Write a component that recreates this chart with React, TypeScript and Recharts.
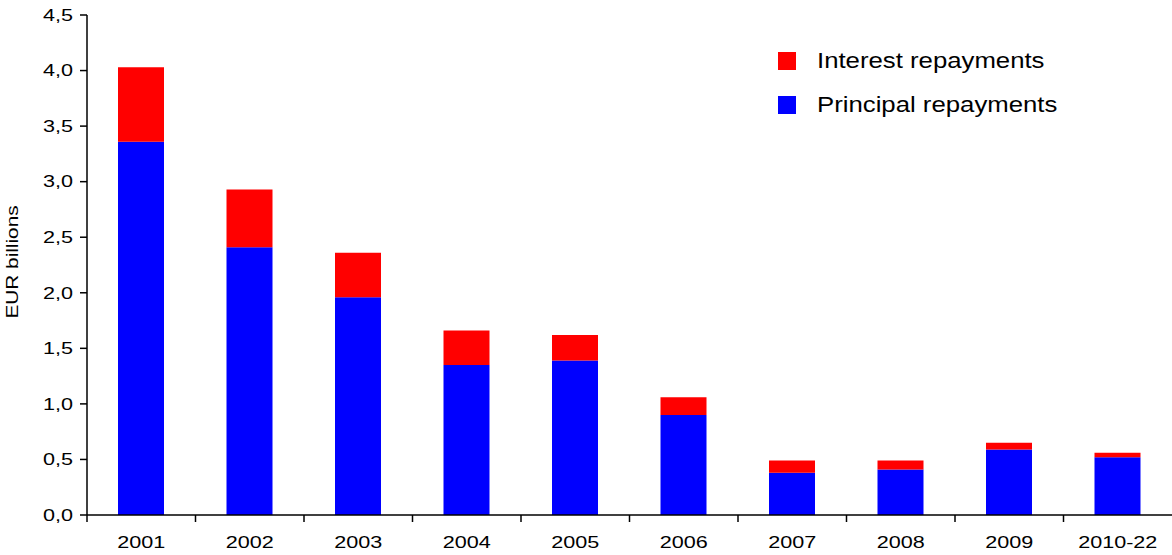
import { BarChart, Bar, XAxis, YAxis } from 'recharts';

const years = ['2001', '2002', '2003', '2004', '2005', '2006', '2007', '2008', '2009', '2010-22'];
const principal = [3.36, 2.41, 1.96, 1.35, 1.39, 0.9, 0.38, 0.41, 0.59, 0.52];
const interest = [0.67, 0.52, 0.4, 0.31, 0.23, 0.16, 0.11, 0.08, 0.06, 0.04];
const yTicks = [0, 0.5, 1, 1.5, 2, 2.5, 3, 3.5, 4, 4.5];

const legendItems = [
  { name: 'Interest repayments', color: '#ff0000' },
  { name: 'Principal repayments', color: '#0000ff' },
];

const W = 1172;
const H = 555;
const PLOT_LEFT = 87;
const HALF_BAND = (W - PLOT_LEFT) / years.length / 2;
const FONT = 'Liberation Sans, Arial, sans-serif';

const data = years.map((y, i) => ({ year: y, principal: principal[i], interest: interest[i] }));

const fmt = (v: number) => v.toFixed(1).replace('.', ',');

function XTick({ x, y, payload }: any) {
  const bx = x - HALF_BAND;
  return (
    <g>
      <line x1={bx} x2={bx} y1={y} y2={y + 7} stroke="#000" strokeWidth={1.5} />
      <text
        transform={`translate(${x},${y + 33}) scale(1.35,1)`}
        textAnchor="middle"
        fontSize={16}
        fontFamily={FONT}
        fill="#000"
      >
        {payload.value}
      </text>
    </g>
  );
}

function YTick({ x, y, payload }: any) {
  return (
    <text
      transform={`translate(${x},${y}) scale(1.35,1)`}
      textAnchor="end"
      dy="0.36em"
      fontSize={16}
      fontFamily={FONT}
      fill="#000"
    >
      {fmt(payload.value)}
    </text>
  );
}

export default function App() {
  return (
    <div style={{ position: 'absolute', left: 0, top: 0, width: W, height: H, background: '#fff', overflow: 'hidden' }}>
      <BarChart
        width={W}
        height={H}
        data={data}
        margin={{ top: 15, right: 0, bottom: 0, left: 0 }}
        barSize={46}
      >
        <XAxis
          dataKey="year"
          axisLine={{ stroke: '#000', strokeWidth: 1.5 }}
          tickLine={false}
          tickSize={0}
          tickMargin={0}
          tick={<XTick />}
          interval={0}
          height={40}
        />
        <YAxis
          domain={[0, 4.5]}
          ticks={yTicks}
          width={PLOT_LEFT}
          axisLine={{ stroke: '#000', strokeWidth: 1.5 }}
          tickLine={{ stroke: '#000', strokeWidth: 1.5 }}
          tickSize={7}
          tickMargin={7}
          tick={<YTick />}
          interval={0}
          label={{
            content: () => (
              <text
                transform="translate(18,262) rotate(-90) scale(1.3,1)"
                textAnchor="middle"
                fontSize={16}
                fontFamily={FONT}
                fill="#000"
              >
                EUR billions
              </text>
            ),
          }}
        />
        <Bar dataKey="principal" stackId="a" fill="#0000ff" isAnimationActive={false} />
        <Bar dataKey="interest" stackId="a" fill="#ff0000" isAnimationActive={false} />
      </BarChart>
      <div style={{ position: 'absolute', left: 778, top: 39, fontFamily: FONT }}>
        {legendItems.map((it) => (
          <div key={it.name} style={{ display: 'flex', alignItems: 'center', height: 44 }}>
            <div style={{ width: 18, height: 18, background: it.color }} />
            <div
              style={{
                marginLeft: 21,
                fontSize: 22,
                transform: 'scaleX(1.17)',
                transformOrigin: 'left center',
                whiteSpace: 'nowrap',
                color: '#000',
              }}
            >
              {it.name}
            </div>
          </div>
        ))}
      </div>
    </div>
  );
}
